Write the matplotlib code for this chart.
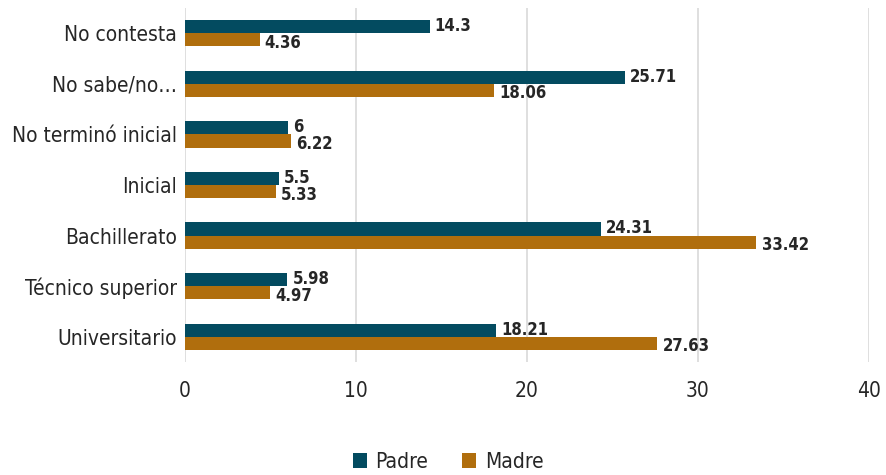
import numpy as np
import matplotlib.pyplot as plt
from matplotlib import font_manager

categorias = ["No contesta", "No sabe/no…", "No terminó inicial", "Inicial",
              "Bachillerato", "Técnico superior", "Universitario"]
padre = [14.3, 25.71, 6, 5.5, 24.31, 5.98, 18.21]
madre = [4.36, 18.06, 6.22, 5.33, 33.42, 4.97, 27.63]

# buscar una fuente estrecha si la hay
fuentes = font_manager.fontManager.ttflist
estrechas = [f for f in fuentes
             if "Narrow" in f.name or "Condensed" in f.name
             or str(f.stretch) in ("condensed", "semi-condensed", "extra-condensed")]
if estrechas:
    fuente, estirar = estrechas[0].name, estrechas[0].stretch
else:
    fuente, estirar = "Roboto", "normal"
plt.rcParams['font.family'] = [fuente, 'DejaVu Sans']
plt.rcParams['font.stretch'] = estirar

color_padre = "#034b60"
color_madre = "#b06e0d"
color_texto = "#262626"

fig = plt.figure(figsize=(8.87, 4.75), dpi=100)
ax = fig.add_axes([185 / 887, 1 - 362 / 475, (869 - 185) / 887, (362 - 8) / 475])

y = np.arange(len(categorias))
h = 0.26
b1 = ax.barh(y - h / 2, padre, height=h, color=color_padre, label="Padre", zorder=3)
b2 = ax.barh(y + h / 2, madre, height=h, color=color_madre, label="Madre", zorder=3)

for barras, valores, dy in ((b1, padre, -0.01), (b2, madre, 0.06)):
    for barra, v in zip(barras, valores):
        ax.text(v + 0.3, barra.get_y() + barra.get_height() / 2 + dy, f"{v:g}",
                va="center", ha="left", fontsize=12, fontweight="bold",
                color=color_texto, zorder=4)

ax.set_xlim(0, 40)
ax.set_ylim(len(categorias) - 0.5, -0.5)
ax.set_xticks([0, 10, 20, 30, 40])
ax.set_yticks(y)
ax.set_yticklabels(categorias)
ax.tick_params(axis="both", length=0, labelsize=15, colors=color_texto)
ax.tick_params(axis="x", pad=14)
ax.tick_params(axis="y", pad=6)
ax.grid(axis="x", color="#d9d9d9", linewidth=1.2, zorder=0)
for s in ax.spines.values():
    s.set_visible(False)

fig.legend(handles=[b1, b2], loc="center", bbox_to_anchor=(448 / 887, 1 - 462 / 475),
           ncol=2, frameon=False, fontsize=15, handlelength=0.7, handleheight=0.7,
           columnspacing=1.6, handletextpad=0.4, labelcolor=color_texto)

fig.savefig("out.png", dpi=100)
